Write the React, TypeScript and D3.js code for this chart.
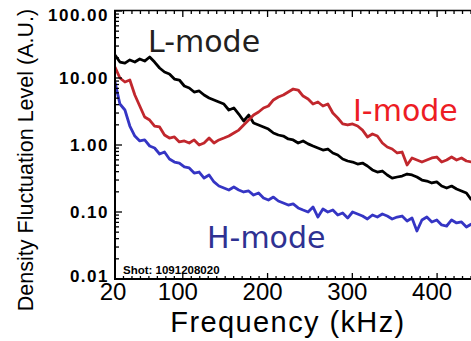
import * as d3 from "d3";

// frequency grid (kHz)
const freq = [
  20.0, 25.8, 31.7, 37.5, 43.4, 49.2, 55.0, 60.9, 66.7, 72.6,
  78.4, 84.2, 90.1, 95.9, 101.8, 107.6, 113.4, 119.3, 125.1, 131.0,
  136.8, 142.6, 148.5, 154.3, 160.2, 166.0, 171.8, 177.7, 183.5, 189.4,
  195.2, 201.0, 206.9, 212.7, 218.6, 224.4, 230.2, 236.1, 241.9, 247.8,
  253.6, 259.4, 265.3, 271.1, 277.0, 282.8, 288.6, 294.5, 300.3, 306.2,
  312.0, 317.8, 323.7, 329.5, 335.4, 341.2, 347.0, 352.9, 358.7, 364.6,
  370.4, 376.2, 382.1, 387.9, 393.8, 399.6, 405.4, 411.3, 417.1, 423.0,
  428.8, 434.6, 440.5,
];

const lMode = [
  22.0, 17.3, 16.7, 18.6, 17.3, 19.2, 17.9, 20.6, 17.3, 14.1,
  12.3, 11.5, 9.66, 9.33, 7.6, 7.1, 6.18, 6.4, 5.57, 5.03,
  4.7, 4.38, 4.09, 3.33, 3.57, 2.9, 2.28, 2.8, 2.13, 1.99,
  1.86, 1.73, 1.51, 1.41, 1.36, 1.23, 1.19, 1.07, 1.15, 1.04,
  0.966, 0.902, 0.841, 0.871, 0.76, 0.709, 0.618, 0.577, 0.557, 0.52,
  0.538, 0.486, 0.424, 0.395, 0.409, 0.357, 0.321, 0.333, 0.344, 0.369,
  0.357, 0.333, 0.3, 0.29, 0.271, 0.281, 0.244, 0.228, 0.244, 0.22,
  0.206, 0.192, 0.151,
];

const iMode = [
  14.6, 10.0, 8.71, 9.33, 5.57, 3.82, 2.62, 2.36, 1.92, 1.86,
  1.41, 1.27, 1.32, 1.11, 1.15, 1.07, 1.19, 1.0, 1.07, 1.27,
  1.07, 1.19, 1.27, 1.36, 1.51, 1.67, 1.99, 2.36, 2.8, 3.11,
  3.57, 3.82, 4.7, 5.2, 5.57, 6.18, 6.85, 6.62, 5.38, 4.86,
  4.09, 4.38, 3.82, 4.09, 3.0, 2.53, 2.06, 1.99, 2.06, 1.92,
  1.67, 1.32, 1.46, 1.36, 1.07, 0.933, 0.871, 0.76, 0.786, 0.503,
  0.64, 0.597, 0.557, 0.597, 0.64, 0.662, 0.557, 0.597, 0.662, 0.597,
  0.64, 0.577, 0.557,
];

const hMode = [
  8.71, 4.09, 3.33, 1.92, 1.36, 1.15, 1.19, 0.966, 0.902, 0.734,
  0.786, 0.618, 0.557, 0.538, 0.47, 0.454, 0.382, 0.395, 0.321, 0.357,
  0.281, 0.244, 0.228, 0.213, 0.236, 0.213, 0.199, 0.206, 0.179, 0.192,
  0.162, 0.151, 0.167, 0.146, 0.136, 0.127, 0.132, 0.115, 0.107, 0.1,
  0.119, 0.0841, 0.111, 0.1, 0.107, 0.0902, 0.0966, 0.0813, 0.1, 0.0933,
  0.0871, 0.0787, 0.0902, 0.0841, 0.0933, 0.0871, 0.0787, 0.0841, 0.0871, 0.0734,
  0.0813, 0.052, 0.076, 0.0841, 0.071, 0.076, 0.064, 0.0618, 0.076, 0.0686,
  0.071, 0.0597, 0.0662,
];

const yTicks = [100, 10, 1, 0.1, 0.01];
const yLabels = ["100.00", "10.00", "1.00", "0.10", "0.01"];
const xTicks = [20, 100, 200, 300, 400];

const W = 471;
const H = 341;
const LEFT = 115;
const TOP = 11;
const BOTTOM = 279;

export default function App() {
  const x = d3.scaleLinear().domain([20, 440]).range([LEFT, W]);
  const y = d3.scaleLog().domain([0.01, 100]).range([BOTTOM, TOP]);

  const line = d3
    .line<number>()
    .x((_, i) => x(freq[i]))
    .y((d) => y(d))
    .curve(d3.curveLinear);

  const series = [
    { name: "L-mode", values: lMode, color: "#000000" },
    { name: "I-mode", values: iMode, color: "#c1272d" },
    { name: "H-mode", values: hMode, color: "#3535c4" },
  ];

  const xMinor = d3.range(20, 441, 10);
  const yMinor = y.ticks();
  const font = "'Liberation Sans', Arial, Helvetica, sans-serif";

  return (
    <svg
      width={W}
      height={H}
      style={{ position: "absolute", left: 0, top: 0, background: "#fff" }}
      fontFamily={font}
    >
      <defs>
        <clipPath id="plot">
          <rect x={LEFT} y={TOP} width={W - LEFT} height={BOTTOM - TOP} />
        </clipPath>
      </defs>

      {/* curves */}
      <g clipPath="url(#plot)">
        {series.map((s) => (
          <path
            key={s.name}
            d={line(s.values) ?? ""}
            fill="none"
            stroke={s.color}
            strokeWidth={2.8}
            strokeLinejoin="round"
          />
        ))}
      </g>

      {/* frame */}
      <g stroke="#000" fill="none">
        <line x1={LEFT} x2={LEFT} y1={TOP - 1} y2={BOTTOM + 1} strokeWidth={2} />
        <line x1={LEFT - 1} x2={W} y1={BOTTOM} y2={BOTTOM} strokeWidth={2} />
        <line x1={LEFT - 1} x2={W} y1={TOP - 0.5} y2={TOP - 0.5} strokeWidth={1.5} />
      </g>

      {/* x ticks, bottom and top */}
      <g stroke="#000" strokeWidth={1.3}>
        {xMinor.map((t) => {
          const major = t % 100 === 0;
          const len = major ? 6 : 3;
          return (
            <g key={t}>
              <line x1={x(t)} x2={x(t)} y1={BOTTOM} y2={BOTTOM - len} />
              <line x1={x(t)} x2={x(t)} y1={TOP} y2={TOP + len} />
            </g>
          );
        })}
      </g>

      {/* y ticks */}
      <g stroke="#000" strokeWidth={1.3}>
        {yMinor.map((t, i) => {
          const major = yTicks.some((m) => Math.abs(m - t) < 1e-9);
          return (
            <line
              key={i}
              x1={LEFT}
              x2={LEFT + (major ? 7 : 4)}
              y1={y(t)}
              y2={y(t)}
            />
          );
        })}
      </g>

      {/* y tick labels */}
      {yTicks.map((t, i) => (
        <text
          key={t}
          x={109}
          y={Math.min(Math.max(y(t), 15), 276) + 6}
          textAnchor="end"
          fontSize={17}
          fontWeight="bold"
          letterSpacing={1.5}
          fill="#000"
        >
          {yLabels[i]}
        </text>
      ))}

      {/* x tick labels */}
      {xTicks.map((t) => (
        <text
          key={t}
          x={x(t) + (t === 20 ? -2 : -5)}
          y={300}
          textAnchor="middle"
          fontSize={24}
          fill="#000"
        >
          {t}
        </text>
      ))}

      {/* axis titles */}
      <text
        x={288}
        y={332}
        textAnchor="middle"
        fontSize={29}
        letterSpacing={1.4}
        fill="#000"
      >
        Frequency (kHz)
      </text>
      <text
        transform="translate(33,160) rotate(-90)"
        textAnchor="middle"
        fontSize={21.5}
        fill="#000"
      >
        Density Fluctuation Level (A.U.)
      </text>

      {/* annotations */}
      <g fontFamily="'DejaVu Sans', Verdana, sans-serif" fontSize={30}>
        <text x={148} y={52} fill="#231f20">L-mode</text>
        <text x={353} y={121} fill="#ed1c24">I-mode</text>
        <text x={207} y={248} fill="#2e3192">H-mode</text>
      </g>
      <text x={123} y={274} fontSize={11.5} fontWeight="bold" fill="#000">
        Shot: 1091208020
      </text>
    </svg>
  );
}
